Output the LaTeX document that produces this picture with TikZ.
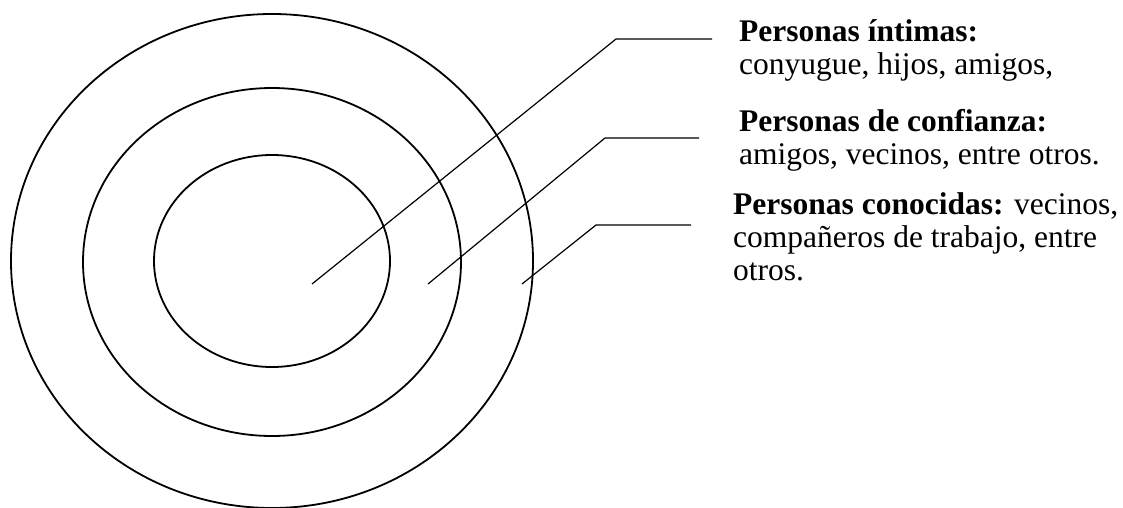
\documentclass[tikz,border=0pt]{standalone}
\usepackage{fontspec}
\setmainfont{Liberation Serif}
\usetikzlibrary{positioning}
\tikzset{>=latex}
\tikzset{ring/.style={line width=1.8pt}}
\tikzset{leader/.style={line width=1.2pt}}
\tikzset{circlelabel/.style={anchor=base west, align=left, inner sep=0pt,
    font=\fontsize{31.5}{33}\selectfont}}

\begin{document}
\begin{tikzpicture}[x=1pt, y=-1pt]
  \useasboundingbox (0,0) rectangle (1123,508);
  % three rings
  \draw[ring] (272,261) ellipse [x radius=261pt, y radius=247pt]; %
  \draw[ring] (272,262) ellipse [x radius=189pt, y radius=174pt]; %
  \draw[ring] (272,261) ellipse [x radius=118pt, y radius=106pt]; %
  % leader points
  \coordinate (inner) at (312,284);
  \coordinate (middle) at (428,284);
  \coordinate (outer) at (522,284);
  \coordinate (innerbend) at (616,39);
  \coordinate (middlebend) at (605,138);
  \coordinate (outerbend) at (596,225);
  \coordinate (innerend) at (712,39);
  \coordinate (middleend) at (699,138);
  \coordinate (outerend) at (691,225);
  % labels (anchored on the last line)
  \node[circlelabel] (intimas) at (739,74.5)
    {\textbf{Personas íntimas:}\\conyugue, hijos, amigos,};
  \node[circlelabel] (confianza) at (739,164.5)
    {\textbf{Personas de confianza:}\\amigos, vecinos, entre otros.};
  \node[circlelabel] (conocidas) at (733,280.5)
    {\textbf{Personas conocidas:} vecinos,\\compañeros de trabajo, entre\\otros.};
  \draw[leader] (inner) -- (innerbend) -- (innerend); %
  \draw[leader] (middle) -- (middlebend) -- (middleend); %
  \draw[leader] (outer) -- (outerbend) -- (outerend); %
\end{tikzpicture}
\end{document}
